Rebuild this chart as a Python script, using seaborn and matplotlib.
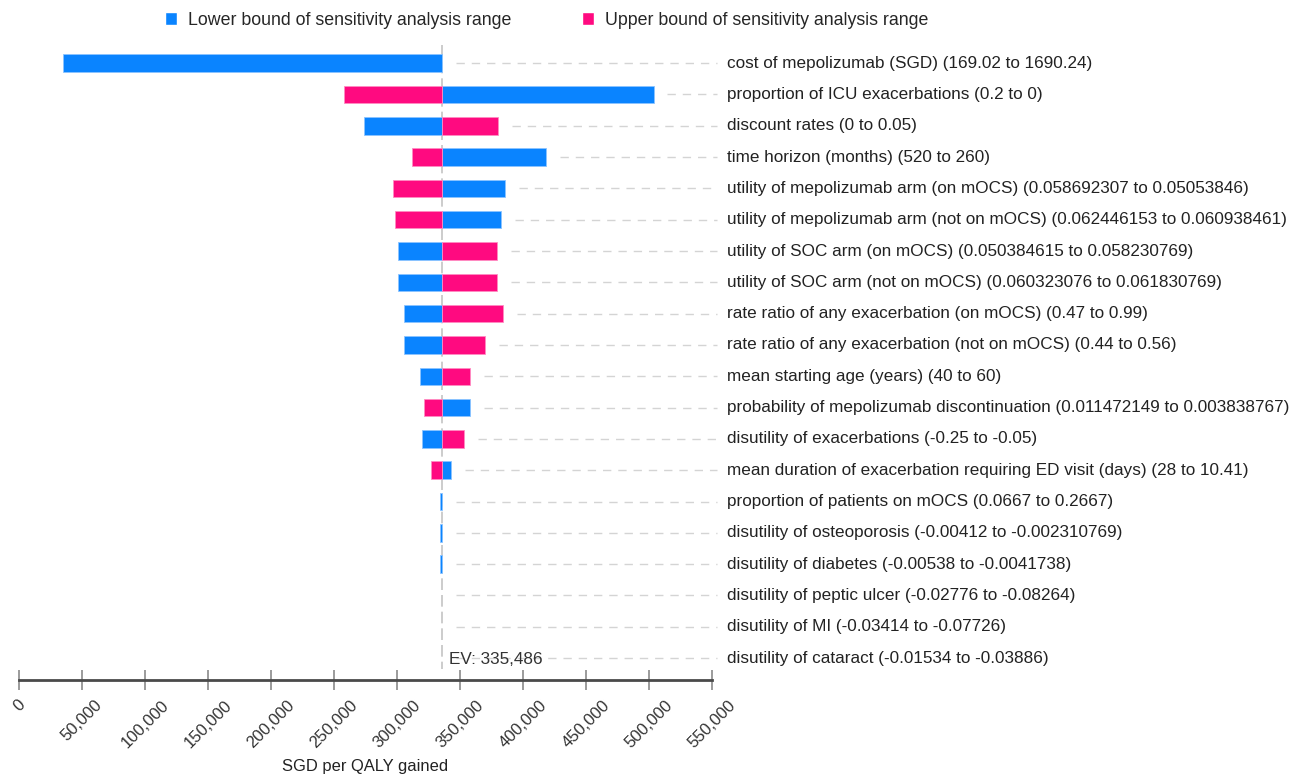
import matplotlib
matplotlib.use("Agg")
import matplotlib.pyplot as plt
from matplotlib.patches import Patch
import seaborn as sns
import numpy as np

# --- data ---
ev = 335486

params = [
    "cost of mepolizumab (SGD) (169.02 to 1690.24)",
    "proportion of ICU exacerbations (0.2 to 0)",
    "discount rates (0 to 0.05)",
    "time horizon (months) (520 to 260)",
    "utility of mepolizumab arm (on mOCS) (0.058692307 to 0.05053846)",
    "utility of mepolizumab arm (not on mOCS) (0.062446153 to 0.060938461)",
    "utility of SOC arm (on mOCS) (0.050384615 to 0.058230769)",
    "utility of SOC arm (not on mOCS) (0.060323076 to 0.061830769)",
    "rate ratio of any exacerbation (on mOCS) (0.47 to 0.99)",
    "rate ratio of any exacerbation (not on mOCS) (0.44 to 0.56)",
    "mean starting age (years) (40 to 60)",
    "probability of mepolizumab discontinuation (0.011472149 to 0.003838767)",
    "disutility of exacerbations (-0.25 to -0.05)",
    "mean duration of exacerbation requiring ED visit (days) (28 to 10.41)",
    "proportion of patients on mOCS (0.0667 to 0.2667)",
    "disutility of osteoporosis (-0.00412 to -0.002310769)",
    "disutility of diabetes (-0.00538 to -0.0041738)",
    "disutility of peptic ulcer (-0.02776 to -0.08264)",
    "disutility of MI (-0.03414 to -0.07726)",
    "disutility of cataract (-0.01534 to -0.03886)",
]

# ICER at the lower bound of each parameter
lower_icer = [34900, 503600, 274200, 418600, 385700, 382500, 300500, 300500,
              305800, 305800, 318200, 357700, 319600, 342600, 334300, 334300,
              334300, 335486, 335486, 335486]
# ICER at the upper bound (nan = off the chart)
upper_icer = [np.nan, 258100, 379900, 312200, 296600, 298400, 379600, 379600,
              384400, 370100, 357700, 321400, 353400, 327000, 335486, 335486,
              335486, 335486, 335486, 335486]

xticks = list(range(0, 550001, 50000))

blue = "#0a84ff"
pink = "#ff0a80"

sns.set_theme(style="white")
plt.rcParams["font.family"] = ["Liberation Sans", "DejaVu Sans"]

fig = plt.figure(figsize=(13, 7.78), dpi=100)
ax = fig.add_axes([19 / 1300, 98 / 778, 693 / 1300, 635 / 778])

y = np.arange(len(params))
lo = np.array(lower_icer, dtype=float)
hi = np.array(upper_icer, dtype=float)

# bars that equal the EV are not drawn
lo_w = np.where(lo == ev, np.nan, lo - ev)
hi_w = np.where(hi == ev, np.nan, hi - ev)

ax.barh(y, lo_w, left=ev, height=0.56, color=blue,
        edgecolor="#8cc4ff", linewidth=0.6, zorder=3)
ax.barh(y, hi_w, left=ev, height=0.56, color=pink,
        edgecolor="#ff8cc2", linewidth=0.6, zorder=3)

# leader lines to the labels
for i in range(len(params)):
    right = np.nanmax([lo[i], hi[i], ev])
    ax.plot([right + 11000, 554000], [i, i], color="#d4d4d4", lw=1,
            dashes=(6, 5), clip_on=False, zorder=1)
    ax.text(1.0216, i, params[i], transform=ax.get_yaxis_transform(),
            ha="left", va="center", fontsize=12.3, color="#222222")

# expected value line
ax.plot([ev, ev], [-0.58, 19.35], color="#c4c4c4", lw=1.2,
        dashes=(7, 3), zorder=2)
ax.text(ev + 6000, 19.05, "EV: 335,486", ha="left", va="center",
        fontsize=12.3, color="#333333")

ax.set_xlim(0, 550000)
ax.set_ylim(19.70, -0.58)
ax.set_yticks([])
ax.set_xticks(xticks)
ax.set_xticklabels([f"{v:,}" for v in xticks], rotation=45, ha="center",
                   va="top", fontsize=12, color="#333333")
ax.tick_params(axis="x", direction="inout", length=14, width=1.2,
               color="#8a8a8a", pad=5.5, bottom=True)
for s in ["top", "left", "right"]:
    ax.spines[s].set_visible(False)
ax.spines["bottom"].set_color("#4a4a4a")
ax.spines["bottom"].set_linewidth(2)
ax.set_xlabel("SGD per QALY gained", fontsize=11.9, color="#222222")
ax.xaxis.set_label_coords(0.5, -0.137)
ax.xaxis.label.set_verticalalignment("center")

handles = [Patch(facecolor=blue, label="Lower bound of sensitivity analysis range"),
           Patch(facecolor=pink, label="Upper bound of sensitivity analysis range")]
fig.legend(handles=handles, loc="upper left", bbox_to_anchor=(0.1146, 1.005),
           ncol=2, frameon=False, fontsize=12.8, handlelength=0.68,
           handleheight=0.75, handletextpad=0.6, columnspacing=4.0)

fig.savefig("out.png", dpi=100)
